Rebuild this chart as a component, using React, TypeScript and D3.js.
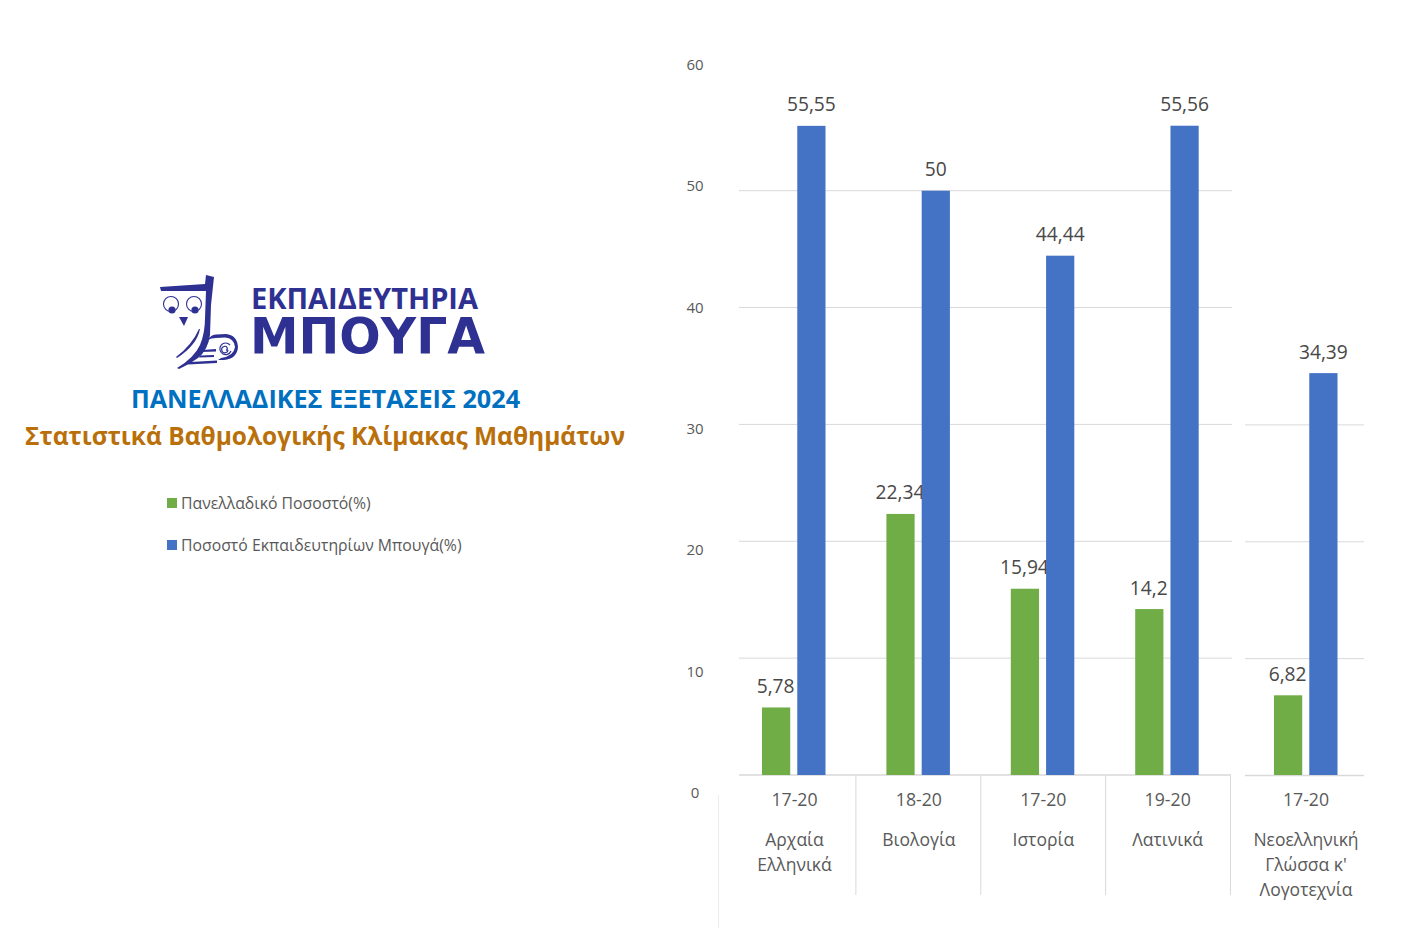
import React from 'react';
import * as d3 from 'd3';

const W = 1417;
const H = 945;

const ranges = ['17-20', '18-20', '17-20', '19-20'];
const subjects = [['Αρχαία', 'Ελληνικά'], ['Βιολογία'], ['Ιστορία'], ['Λατινικά']];
const national = [5.78, 22.34, 15.94, 14.2];
const bouga = [55.55, 50, 44.44, 55.56];

const lastRange = '17-20';
const lastSubject = ['Νεοελληνική', 'Γλώσσα κ\'', 'Λογοτεχνία'];
const lastNational = 6.82;
const lastBouga = 34.39;

const yTicks = [0, 10, 20, 30, 40, 50, 60];
const legendNames = ['Πανελλαδικό Ποσοστό(%)', 'Ποσοστό Εκπαιδευτηρίων Μπουγά(%)'];

const GREEN = '#70ad47';
const BLUE = '#4472c4';
const GRID = '#d9d9d9';
const TEXT = '#595959';
const NAVY = '#2e3192';
const FONT = '"Open Sans", "Noto Sans", sans-serif';

const y = d3.scaleLinear().domain([0, 50]).range([775, 190.7]);
// tick labels sit on their own, slightly wider spacing in the picture
const yLabel = d3.scaleLinear().domain([0, 60]).range([798, 70]);
const x = d3.scaleBand<number>().domain(d3.range(4)).range([731.5, 1231]);
// bars and category labels drift slightly left of the separators in the original
const xText = d3.scaleBand<number>().domain(d3.range(4)).range([732.3, 1229.9]);
const xLast = d3.scaleBand<number>().domain([0]).range([1246, 1366]);
const inner = d3.scaleBand<string>().domain(['national', 'bouga']).range([-32, 31.5]).paddingInner(0.2);

const Pair = ({ cx, a, b, base = 775 }: { cx: number; a: number; b: number; base?: number }) => {
  const fmt = (v: number) => String(v).replace('.', ',');
  const bars = [{ k: 'national', v: a, c: GREEN }, { k: 'bouga', v: b, c: BLUE }];
  return (
    <g>
      {bars.map(d => (
        <g key={d.k}>
          <rect x={cx + inner(d.k)!} y={y(d.v)} width={inner.bandwidth()} height={base - y(d.v)} fill={d.c} />
          <text x={cx + inner(d.k)! + inner.bandwidth() / 2 + (d.k === 'national' ? -0.5 : 0)} y={y(d.v) - 14.5}
            textAnchor="middle" fontSize={19.2} fill="#484848">{fmt(d.v)}</text>
        </g>
      ))}
    </g>
  );
};

const Logo = () => (
  <g fill={NAVY} stroke="none">
    {/* owl */}
    <path d="M160 287 L205 284 L206 275 L214 277 L211 305 L210 335 Q208 350 198 358 Q190 364 179 369 L177 368 Q194 358 200 345 Q205 333 205 318 L206 291 L161 291 Z" />
    <path d="M200 329 Q197 345 177 358 L176 357 Q192 345 199 329 Z" />
    <circle cx="171" cy="304" r="7.5" fill="none" stroke={NAVY} strokeWidth="1.1" />
    <circle cx="194" cy="304" r="7.5" fill="none" stroke={NAVY} strokeWidth="1.1" />
    <circle cx="172" cy="310" r="3.6" />
    <circle cx="195" cy="310" r="3.6" />
    <path d="M179 317 L188 317 L184 326 Z" />
    {/* scroll */}
    <path d="M208 340 Q210 335 216 334.5 L226 334 Q237 335 238 347 Q237 359 224 360 L218 360 L221 358 Q234 356 235 347 Q234 338 225 337.5 L216 338 Q211 338 208 340 Z" />
    <path d="M202 350 L216 349 L216 351.5 L201 352 Z" />
    <path d="M200 355.5 L214 355 L214 357 L199 357.5 Z" />
    <path d="M190 362 L217 360.5 L217 363 L188 364.5 Z" />
    <path d="M230 345 A5.8 5.8 0 1 0 231 351 M228 350 A3.2 3.2 0 1 1 224 346.5 A1.8 1.8 0 1 1 226 350.5" fill="none" stroke={NAVY} strokeWidth="1.2" />
    <text x="251" y="309" fontFamily={FONT} fontWeight={700} fontSize={29}>ΕΚΠΑΙΔΕΥΤΗΡΙΑ</text>
    <text x="250" y="353" fontFamily='"DejaVu Sans", sans-serif' fontWeight={700} fontSize={50} textLength={235} lengthAdjust="spacingAndGlyphs">ΜΠΟΥΓΑ</text>
  </g>
);

export default function App() {
  return (
    <svg width={W} height={H} style={{ position: 'absolute', left: 0, top: 0, background: '#fff' }} fontFamily={FONT}>
      <Logo />
      <text x={325.5} y={408} textAnchor="middle" fontSize={25.2} fontWeight={700} fill="#0070c0">ΠΑΝΕΛΛΑΔΙΚΕΣ ΕΞΕΤΑΣΕΙΣ 2024</text>
      <text x={325} y={445} textAnchor="middle" fontSize={24.5} fontWeight={700} fill="#b96f0a">Στατιστικά Βαθμολογικής Κλίμακας Μαθημάτων</text>

      {legendNames.map((n, i) => (
        <g key={n}>
          <rect x={167} y={498 + i * 42} width={10} height={10} fill={i === 0 ? GREEN : BLUE} />
          <text x={181} y={508.5 + i * 42} fontSize={15.8} fill={TEXT}>{n}</text>
        </g>
      ))}

      {yTicks.map(t => (
        <text key={t} x={695} y={yLabel(t)} textAnchor="middle" fontSize={15} fill={TEXT}>{t}</text>
      ))}

      {/* main panel grid */}
      {yTicks.filter(t => t > 0 && t <= 50).map(t => (
        <line key={t} x1={739} x2={1232} y1={y(t)} y2={y(t)} stroke={GRID} strokeWidth={1} />
      ))}
      <line x1={739} x2={1231} y1={775} y2={775} stroke={GRID} strokeWidth={1.5} />
      {d3.range(1, 5).map(i => (
        <line key={i} x1={x(0)! + i * x.step() - 0.5} x2={x(0)! + i * x.step() - 0.5} y1={775} y2={895} stroke={GRID} />
      ))}
      <line x1={718.5} x2={718.5} y1={795} y2={928} stroke="#ececec" />

      {/* last panel, pasted in separately in the original */}
      {yTicks.filter(t => t > 0 && t <= 30).map(t => (
        <line key={t} x1={1245} x2={1364} y1={y(t) + 0.5} y2={y(t) + 0.5} stroke={GRID} />
      ))}
      <line x1={1245} x2={1364} y1={775.5} y2={775.5} stroke={GRID} strokeWidth={1.5} />

      {ranges.map((r, i) => {
        const tx = xText(i)! + xText.bandwidth() / 2;
        return (
          <g key={i}>
            <Pair cx={tx - 0.5} a={national[i]} b={bouga[i]} />
            <text x={tx} y={806} textAnchor="middle" fontSize={17.7} fill={TEXT}>{r}</text>
            {subjects[i].map((s, j) => (
              <text key={s} x={tx} y={846 + j * 25} textAnchor="middle" fontSize={17.5} fill={TEXT}>{s}</text>
            ))}
          </g>
        );
      })}

      <Pair cx={xLast(0)! + xLast.bandwidth() / 2} a={lastNational} b={lastBouga} />
      <text x={1306} y={806} textAnchor="middle" fontSize={17.7} fill={TEXT}>{lastRange}</text>
      {lastSubject.map((s, j) => (
        <text key={s} x={1306} y={846 + j * 25} textAnchor="middle" fontSize={17.5} fill={TEXT}>{s}</text>
      ))}
    </svg>
  );
}
